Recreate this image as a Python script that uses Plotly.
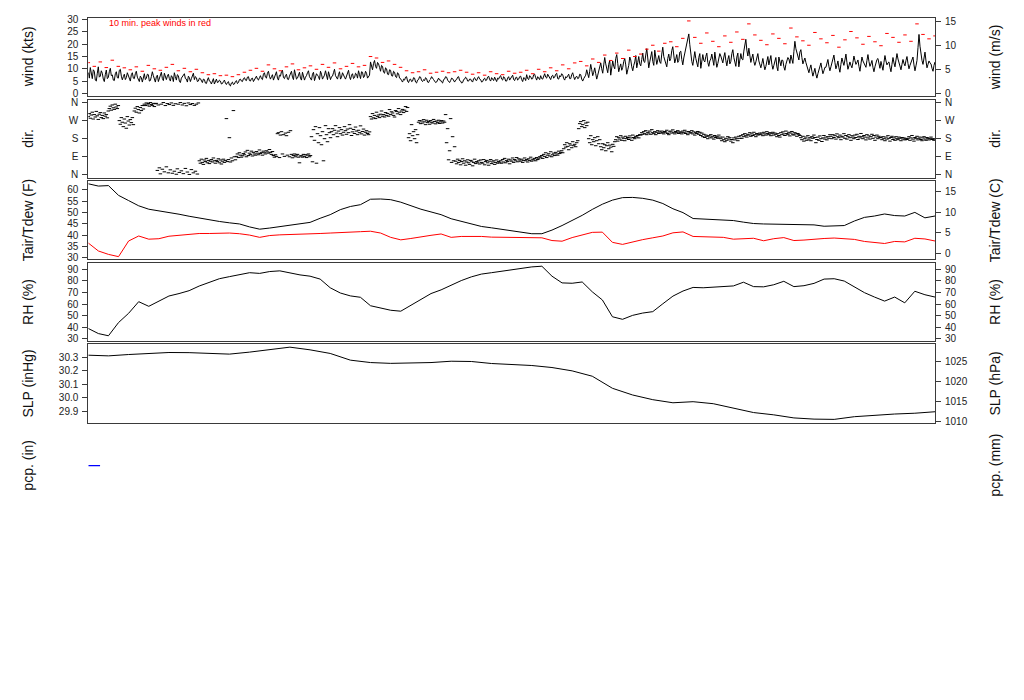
import numpy as np
import plotly.graph_objects as go

# ---------------- data ----------------
span_hours = 72.0

wind_kts = [
    # x 88-128
    8.5, 6.2, 10.5, 7.4, 6.0, 9.6, 9.0, 5.4, 5.0, 8.2, 10.8, 6.6, 7.0, 9.2, 8.2, 5.8, 4.8, 7.6, 9.5, 6.0,
    6.5, 8.8, 10.2, 7.2, 7.5, 5.4, 5.2, 8.0, 8.8, 6.4, 6.2, 9.4, 9.8, 7.0, 5.5, 6.8, 7.8, 5.6, 6.4, 8.4,
    # x 128-168
    7.2, 5.8, 5.0, 7.6, 8.4, 6.2, 6.0, 8.0, 9.0, 6.6, 5.4, 4.8, 7.0, 6.4, 4.6, 7.2, 8.0, 5.6, 6.2, 7.8,
    7.6, 5.0, 5.2, 6.8, 8.8, 7.2, 5.8, 4.6, 6.8, 7.4, 4.8, 6.0, 7.4, 8.6, 6.0, 5.2, 8.2, 6.6, 5.6, 7.0,
    # x 168-200
    7.8, 6.0, 5.0, 7.2, 6.6, 4.8, 8.4, 6.8, 5.4, 7.6, 7.2, 5.0, 4.4, 6.2, 6.8, 7.8, 8.0, 6.0, 5.8, 4.6,
    7.0, 6.4, 4.8, 6.0, 7.6, 8.2, 5.6, 6.8, 6.4, 4.8, 5.0, 6.2,
    # x 200-240
    6.0, 5.2, 4.4, 5.8, 5.6, 4.2, 4.0, 5.4, 6.4, 5.0, 4.8, 3.8, 5.2, 6.0, 3.8, 4.6, 5.8, 4.4, 4.6, 5.4,
    5.0, 3.8, 4.0, 4.8, 5.4, 4.2, 3.6, 4.4, 4.8, 3.4, 3.0, 4.2, 4.6, 3.6, 3.8, 4.8, 5.2, 4.0, 4.4, 5.6,
    # x 240-260
    5.8, 5.0, 4.8, 6.0, 6.4, 5.4, 5.2, 6.6, 6.8, 5.2, 5.0, 6.0, 6.2, 4.8, 5.6, 6.6, 7.0, 5.8, 5.4, 6.4,
    # x 260-370
    7.2, 6.0, 5.6, 7.8, 8.4, 6.6, 6.2, 8.2, 9.0, 7.0, 5.8, 6.8, 7.6, 5.4, 6.4, 8.0, 8.8, 6.2, 5.4, 7.4,
    7.0, 8.8, 9.4, 6.4, 6.0, 7.2, 7.8, 5.8, 5.6, 7.0, 8.2, 9.0, 6.6, 5.6, 9.6, 7.8, 5.8, 6.2, 7.4, 8.6,
    6.2, 5.4, 8.6, 7.0, 5.4, 6.6, 7.2, 8.4, 9.2, 6.8, 6.0, 5.4, 7.8, 8.6, 5.2, 6.4, 8.0, 7.4, 6.8, 5.6,
    9.0, 7.8, 5.8, 6.6, 7.4, 9.2, 6.4, 5.6, 8.8, 7.0, 5.6, 6.8, 7.0, 8.4, 9.8, 7.2, 6.2, 5.8, 7.6, 8.8,
    5.8, 6.6, 8.4, 7.0, 6.6, 5.8, 7.2, 8.8, 9.4, 6.8, 5.6, 7.4, 8.0, 6.0, 6.4, 8.2, 7.8, 6.2, 9.2, 7.6,
    6.0, 8.8, 8.6, 6.4, 7.0, 9.0, 8.2, 6.2, 6.8, 7.4,
    # x 370-380
    12.8, 10.4, 9.6, 12.2, 13.4, 11.0, 10.2, 12.6, 12.0, 10.6,
    # x 380-400
    9.0, 11.4, 11.0, 8.6, 8.2, 10.4, 10.0, 7.8, 7.6, 9.6, 9.4, 7.2, 7.0, 9.0, 8.6, 6.8, 6.4, 8.4, 8.0, 6.2,
    # x 400-470
    6.0, 5.2, 4.6, 5.8, 5.4, 6.6, 6.8, 5.0, 4.4, 5.6, 5.8, 4.8, 5.0, 6.4, 6.2, 4.6, 4.2, 5.4, 5.6, 6.8,
    6.6, 5.2, 4.8, 5.6, 5.2, 6.4, 6.0, 4.6, 4.4, 5.4, 5.8, 6.8, 6.4, 5.6, 5.0, 4.4, 4.6, 5.8, 6.2, 5.4,
    5.4, 4.6, 4.2, 5.6, 5.8, 6.8, 6.6, 5.4, 4.8, 4.4, 5.2, 6.2, 6.0, 5.0, 4.6, 5.4, 5.6, 6.6, 6.8, 5.2,
    5.0, 4.2, 4.4, 5.6, 5.8, 6.6, 6.2, 5.0, 5.0, 5.8,
    # x 470-586
    5.8, 5.0, 4.6, 6.0, 6.4, 5.4, 5.2, 6.2, 6.8, 5.8, 5.6, 4.6, 4.8, 5.8, 6.2, 5.2, 5.4, 6.6, 7.0, 5.6,
    5.0, 6.4, 6.0, 5.2, 6.6, 5.6, 4.8, 6.2, 5.8, 6.8, 7.2, 5.8, 5.4, 6.8, 6.4, 5.0, 5.0, 6.2, 6.8, 5.4,
    6.0, 6.8, 7.4, 5.6, 5.2, 6.4, 6.6, 5.4, 5.8, 6.8, 7.0, 5.6, 4.8, 6.4, 6.2, 5.2, 7.6, 6.0, 5.6, 7.2,
    6.8, 5.8, 6.0, 7.6, 7.8, 6.4, 5.4, 6.8, 6.4, 5.6, 7.2, 6.0, 5.8, 7.4, 8.0, 6.6, 6.2, 7.8, 7.0, 5.8,
    5.6, 7.0, 7.4, 6.2, 6.6, 7.8, 8.2, 6.0, 5.8, 7.2, 6.8, 8.0, 7.6, 6.0, 5.4, 6.8, 6.4, 7.2, 7.8, 6.0,
    6.0, 7.6, 8.4, 6.8, 5.6, 6.6, 7.0, 6.0, 6.2, 7.8, 7.6, 5.8, 5.0, 6.0, 6.8, 7.4,
    # x 586-600
    9.6, 7.8, 6.4, 9.0, 11.8, 9.6, 7.2, 8.6, 10.4, 8.0, 5.8, 7.4, 9.0, 10.6,
    # x 600-640
    12.4, 10.0, 8.2, 11.6, 14.6, 12.0, 9.6, 8.4, 11.8, 13.4, 7.4, 9.8, 13.2, 11.0, 10.0, 14.2, 15.8, 12.2, 8.8, 10.6,
    12.0, 9.4, 10.6, 13.0, 14.2, 11.6, 7.8, 9.6, 11.4, 14.8, 13.6, 10.8, 9.2, 11.4, 12.8, 15.4, 10.4, 12.6, 15.0, 12.0,
    # x 640-688
    11.2, 13.8, 16.4, 13.0, 12.6, 15.6, 18.2, 14.4, 10.4, 12.8, 14.8, 17.0, 13.0, 11.4, 17.6, 15.2, 11.8, 13.6, 15.4, 12.8,
    12.2, 16.0, 18.8, 15.0, 13.6, 11.6, 10.8, 14.2, 16.0, 13.2, 14.2, 17.4, 19.0, 15.6, 12.4, 14.0, 15.8, 12.6, 13.4, 16.8,
    17.2, 13.8, 11.6, 14.4, 16.6, 18.0, 19.4, 21.6,
    24.2, 19.8,
    # x 690-722
    15.6, 13.0, 11.4, 14.8, 17.0, 14.2, 12.0, 10.8, 14.6, 16.2, 10.2, 12.8, 15.8, 13.4, 12.8, 15.0, 16.4, 12.6, 11.0, 13.2,
    14.0, 16.0, 12.6, 11.4, 16.8, 14.4, 10.6, 12.2, 13.8, 16.2, 15.2, 13.6,
    # x 722-760
    12.4, 14.8, 16.6, 13.4, 11.2, 13.8, 15.4, 12.0, 13.0, 16.2, 17.8, 14.6, 12.2, 11.0, 14.8, 16.4, 10.8, 13.2, 16.2, 14.0,
    13.6, 17.2, 20.4, 22.0, 17.6, 15.2, 18.4, 15.0, 12.6, 14.4, 16.0, 13.0, 11.4, 12.8, 14.6, 16.2, 13.2, 11.8,
    # x 760-790
    10.4, 12.2, 14.2, 11.6, 9.6, 11.0, 13.0, 15.0, 11.6, 13.8, 15.4, 11.8, 9.8, 11.4, 12.6, 14.6, 10.8, 9.2, 14.8, 12.4,
    11.2, 13.6, 13.4, 10.8, 9.4, 11.8, 12.8, 14.6, 14.0, 12.2,
    # x 790-808
    15.6, 13.4, 12.2, 17.0, 21.2, 18.2, 16.4, 14.2, 13.6, 16.8, 17.8, 14.6, 12.0, 13.2, 14.4, 12.6, 11.2, 10.0,
    # x 808-825
    8.4, 10.2, 11.6, 9.0, 7.0, 8.6, 10.2, 7.8, 6.2, 8.0, 9.6, 11.8, 12.4, 10.0, 8.0, 9.2, 10.6,
    # x 825-880
    10.6, 12.6, 13.8, 11.0, 9.2, 10.8, 12.4, 14.2, 15.6, 12.6, 10.0, 11.4, 13.2, 10.4, 8.6, 11.8, 14.4, 12.8, 11.4, 13.6,
    16.0, 12.6, 9.8, 11.2, 12.8, 11.4, 10.4, 12.6, 15.2, 13.4, 11.8, 12.6, 13.6, 11.0, 9.0, 12.0, 14.8, 13.2, 12.2, 11.0,
    10.6, 13.4, 15.8, 13.0, 11.0, 12.0, 13.4, 10.6, 8.8, 10.8, 12.6, 13.8, 14.2, 11.6, 10.2,
    # x 880-934
    13.0, 11.0, 9.4, 12.6, 15.4, 13.2, 11.6, 12.4, 12.8, 10.6, 8.8, 11.8, 14.6, 12.4, 10.8, 13.6, 16.2, 14.0, 12.4, 10.6,
    9.6, 11.8, 13.8, 12.2, 11.2, 13.4, 15.0, 12.2, 10.0, 11.4, 12.6, 14.0, 14.8, 11.6, 9.2, 11.2, 13.4, 18.6, 24.0, 19.2,
    15.6, 13.4, 11.8, 14.6, 16.8, 13.2, 10.4, 11.8, 13.2, 12.4, 12.0, 10.2, 9.0, 11.4, 12.8,
]

peak_kts = [
    12.5, 11.0, 12.8, 10.5, 13.5, 11.0, 10.4,
    9.6, 10.8, 9.0, 11.4, 10.0, 9.4, 10.6, 11.8, 9.2, 10.2, 8.8, 9.8,
    8.4, 7.6, 8.0, 7.2, 7.4, 6.8, 7.6,
    8.6, 9.4, 10.2, 9.0, 11.6, 10.0, 9.2, 10.8, 12.0, 9.6,
    10.4, 11.2, 9.8, 11.8, 10.6, 12.4, 10.0, 11.0, 12.2, 10.8, 11.4,
    15.0, 14.4,
    12.6, 13.2, 11.8, 10.6,
    9.2, 8.4, 8.8, 9.6, 8.2, 8.6, 9.0, 8.4, 8.8, 9.4, 8.6,
    7.8, 8.4, 7.4, 8.8, 8.0, 7.6, 9.0, 8.2, 8.6, 9.4, 8.0, 9.8, 8.8, 10.4, 9.2, 11.6, 10.0, 12.4, 13.0, 11.2,
    14.0, 12.6, 15.6, 13.4, 16.4, 14.2, 17.6, 15.0, 16.0,
    18.0, 19.6, 17.2, 20.4, 21.0, 19.0, 22.4, 29.5,
    22.8, 20.4, 24.6, 21.2, 19.0, 23.4, 20.8, 25.0, 22.0, 28.3, 23.8, 21.6, 19.8, 24.2, 22.4, 20.2, 26.6,
    23.0, 21.4, 19.6, 24.8, 22.2, 20.6, 23.6, 18.8, 21.8, 25.2, 22.6, 20.0, 23.2, 21.0, 19.4, 24.4, 22.8,
    20.8, 23.8, 21.2, 28.3, 24.0, 22.2, 23.4,
]

dir_deg = [
    # x 88-109
    290, 305, 282, 298, 312, 278, 300, 288, 316, 294, 276, 302, 310, 285, 296, 280, 308, 292, 300, 284, 318,
    # x 109-119
    330, 342, 322, 348, 334, 326, 352, 338, 330, 345,
    # x 119-134
    270, 252, 285, 262, 240, 278, 258, 232, 290, 268, 248, 275, 260, 285, 250,
    # x 134-144
    318, 332, 312, 340, 325, 308, 335, 320, 345, 328,
    # x 144-156
    352, 345, 358, 348, 355, 342, 360, 350, 346, 356, 340, 354,
    # x 156-199
    356, 22, 348, 35, 5, 352, 28, 360, 15, 345, 40, 355, 10, 350, 25, 358, 8, 346, 18, 354, 3, 30,
    352, 12, 360, 20, 348, 6, 356, 32, 344, 14, 358, 2, 350, 26, 355, 10, 346, 18, 352, 4, 358,
    # x 199-236
    70, 58, 78, 62, 52, 74, 66, 82, 60, 72, 56, 68, 76, 64, 84, 70, 58, 72, 66, 80,
    60, 74, 54, 68, 78, 62, 72, 280, 66, 76, 185, 64, 84, 70, 320, 90, 75,
    # x 236-273
    92, 104, 86, 110, 98, 88, 95, 106, 100, 114, 90, 122, 96, 108, 102, 118, 94, 112, 104, 98,
    116, 108, 100, 124, 106, 112, 98, 118, 110, 104, 120, 114, 108, 126, 112, 102, 116,
    # x 273-301
    96, 88, 100, 92, 205, 210, 86, 198, 215, 104, 200, 92, 208, 195, 98, 212, 90, 220, 102, 85,
    96, 104, 90, 98, 102, 88, 60, 94,
    # x 301-311
    95, 88, 102, 92, 100, 86, 98, 104, 90, 96,
    # x 311-331
    190, 65, 225, 172, 240, 58, 205, 160, 235, 195, 150, 215, 70, 180, 245, 200, 165, 230, 210, 185,
    # x 331-370
    215, 230, 200, 222, 245, 208, 190, 218, 235, 205, 225, 198, 212, 240, 220, 202, 228, 210, 250, 232,
    196, 214, 226, 206, 238, 218, 200, 222, 210, 244, 204, 216, 228, 198, 212, 220, 206, 200, 214,
    # x 370-408
    290, 278, 305, 284, 296, 280, 312, 290, 298, 285, 302, 318, 292, 300, 288, 310, 296, 306, 292, 325,
    300, 314, 308, 296, 288, 320, 315, 304, 330, 312, 300, 318, 326, 310, 322, 340, 316, 335,
    # x 408-418
    185, 205, 170, 250, 195, 215, 180, 225, 160, 200,
    # x 418-445
    262, 270, 255, 268, 258, 275, 264, 250, 272, 260, 266, 252, 270, 262, 258, 276, 266, 254, 268, 260,
    272, 256, 264, 270, 258, 268, 262,
    # x 445-455
    300, 160, 230, 75, 120, 280, 62, 190, 70, 140,
    # x 455-500
    68, 55, 78, 62, 72, 50, 66, 80, 58, 70, 48, 64, 75, 60, 52, 72, 68, 45, 62, 78,
    56, 66, 60, 70, 54, 74, 62, 58, 76, 50, 66, 72, 60, 48, 68, 76, 56, 64, 70, 52,
    62, 74, 58, 66, 60,
    # x 500-540
    70, 58, 76, 64, 82, 60, 72, 66, 78, 55, 74, 68, 84, 62, 76, 70, 86, 65, 80, 74,
    68, 78, 62, 72, 84, 70, 76, 64, 80, 72, 88, 68, 78, 74, 82, 70, 86, 76, 80, 90,
    # x 540-563
    88, 96, 82, 102, 92, 110, 86, 98, 105, 94, 115, 90, 100, 108, 96, 112, 104, 98, 118, 106,
    112, 120, 110,
    # x 563-578
    130, 150, 138, 160, 142, 125, 155, 148, 135, 165, 145, 152, 140, 160, 170,
    # x 578-588
    230, 255, 265, 240, 250, 270, 235, 258, 245, 262,
    # x 588-600
    180, 160, 195, 150, 175, 165, 185, 145, 170, 190, 155, 175,
    # x 600-615
    140, 125, 155, 135, 150, 120, 145, 160, 130, 148, 138, 115, 152, 142, 165,
    # x 615-640
    175, 190, 168, 185, 178, 195, 172, 188, 182, 170, 192, 180, 186, 176, 194, 184, 172, 198, 186, 180,
    192, 188, 196, 184, 200,
    # x 640-720
    198, 210, 202, 215, 205, 220, 200, 212, 208, 218, 202, 225, 210, 205, 215, 200, 212, 220, 206, 214,
    208, 218, 210, 204, 216, 212, 222, 206, 200, 214, 218, 208, 224, 212, 204, 216, 210, 220, 206, 214,
    212, 204, 218, 210, 222, 206, 214, 200, 216, 208, 210, 220, 204, 214, 198, 210, 206, 216, 202, 212,
    196, 208, 190, 202, 186, 198, 192, 180, 195, 188, 200, 184, 192, 178, 196, 186, 190, 182, 198, 188,
    # x 720-760
    180, 170, 188, 175, 165, 182, 172, 190, 178, 185, 168, 176, 160, 184, 174, 188, 180, 170, 192, 182,
    195, 182, 200, 190, 205, 195, 188, 202, 198, 210, 192, 204, 196, 212, 200, 190, 206, 198, 202, 208,
    # x 760-800
    200, 208, 195, 212, 204, 198, 215, 206, 200, 210, 195, 205, 212, 198, 208, 202, 190, 205, 196, 188,
    210, 200, 214, 204, 196, 218, 206, 200, 212, 194, 208, 216, 202, 198, 210, 204, 192, 206, 200, 196,
    # x 800-830
    185, 175, 192, 168, 180, 188, 172, 195, 178, 185, 170, 190, 182, 198, 186, 160, 176, 188, 172, 194,
    180, 166, 184, 196, 178, 188, 174, 190, 182, 200,
    # x 830-880
    192, 180, 200, 186, 195, 178, 204, 190, 185, 198, 175, 192, 188, 205, 182, 196, 178, 190, 200, 185,
    172, 195, 188, 180, 198, 186, 202, 176, 192, 184, 206, 190, 180, 196, 188, 174, 200, 184, 194, 178,
    190, 202, 182, 196, 172, 188, 198, 180, 192, 186,
    # x 880-935
    185, 175, 190, 180, 170, 188, 178, 195, 182, 168, 186, 192, 176, 184, 172, 190, 180, 175, 188, 182,
    170, 186, 178, 184, 174, 180, 176, 182, 190, 172, 184, 196, 178, 168, 186, 180, 192, 174, 182, 188,
    176, 170, 184, 190, 178, 172, 186, 180, 174, 182, 188, 176, 180, 172, 178,
]

tair_f = [
    62.6, 61.6, 61.8, 57.5, 55.2, 52.9, 51.4, 50.7, 50.2, 49.2, 48.3, 47.5, 46.6, 46.0, 45.4, 44.9, 43.6,
    42.6, 43.1, 43.8, 44.3, 44.9, 45.6, 47.4, 49.0, 51.2, 52.6, 53.4, 55.8, 55.9, 55.6, 54.5, 52.9, 51.4,
    50.2, 49.0, 47.2, 46.0, 45.0, 43.8, 43.2, 42.6, 42.0, 41.3, 40.6, 40.6, 42.2, 44.2, 46.4, 48.7, 51.3,
    53.6, 55.4, 56.5, 56.6, 56.2, 55.4, 53.9, 51.6, 49.9, 47.3, 47.0, 46.8, 46.6, 46.4, 45.7, 45.1, 44.9,
    44.8, 44.8, 44.7, 44.8, 44.5, 43.9, 44.0, 44.2, 46.2, 47.8, 48.4, 49.3, 48.6, 48.4, 50.0, 47.6, 48.4,
]

tdew_f = [
    36.5, 33.0, 31.5, 30.5, 37.4, 39.6, 38.2, 38.4, 39.5, 40.0, 40.4, 40.7, 40.7, 40.8, 40.9, 40.6, 40.0,
    39.0, 39.8, 40.1, 40.2, 40.2, 40.5, 40.7, 40.9, 41.2, 41.4, 41.5, 41.7, 40.9, 39.0, 37.9, 38.5, 39.3,
    39.9, 40.5, 39.0, 39.4, 39.5, 39.4, 39.1, 39.0, 39.0, 38.8, 38.7, 38.8, 37.6, 37.3, 38.9, 40.2, 41.2,
    41.3, 36.8, 35.9, 37.0, 38.0, 38.8, 39.6, 41.0, 41.4, 39.4, 39.2, 39.0, 39.0, 38.2, 38.5, 38.6, 37.5,
    38.4, 38.9, 37.6, 37.8, 38.3, 38.5, 38.7, 38.4, 38.1, 37.2, 36.6, 36.3, 37.2, 37.0, 38.6, 38.3, 37.4,
]

rh_pct = [
    38.9, 34.5, 32.6, 44.0, 52.0, 62.0, 58.0, 62.5, 66.9, 69.0, 71.5, 75.5, 78.5, 81.8, 83.6, 85.0, 87.0,
    86.4, 88.0, 88.6, 86.6, 85.1, 84.0, 81.5, 74.0, 69.5, 67.0, 65.8, 58.5, 56.8, 54.6, 53.8, 58.8, 63.5,
    69.0, 72.2, 76.5, 80.2, 83.4, 85.8, 87.0, 88.4, 89.8, 91.0, 92.0, 92.6, 84.0, 78.2, 77.9, 79.0, 70.5,
    63.5, 49.0, 46.8, 50.2, 52.2, 53.4, 60.2, 66.8, 71.2, 74.3, 74.0, 74.4, 74.6, 75.6, 78.8, 75.0, 74.8,
    76.6, 79.6, 75.0, 75.8, 77.8, 81.5, 81.8, 79.8, 75.0, 69.8, 66.0, 62.5, 66.0, 61.0, 71.0, 68.0, 66.0,
]

slp_inhg = [
    30.317, 30.312, 30.322, 30.330, 30.337, 30.336, 30.331, 30.325, 30.340, 30.358, 30.377, 30.357,
    30.330, 30.280, 30.262, 30.256, 30.258, 30.262, 30.272, 30.270, 30.255, 30.248, 30.240, 30.225,
    30.200, 30.160, 30.070, 30.020, 29.985, 29.962, 29.970, 29.955, 29.922, 29.889, 29.872, 29.849,
    29.840, 29.838, 29.858, 29.869, 29.878, 29.884, 29.895,
]

pcp_hours = [0.0, 1.0]
pcp_in = [0.0, 0.0]

# axis scales / ticks
wind_range = [-1.2, 30.6]
wind_ticks = [0, 5, 10, 15, 20, 25, 30]
ms_ticks = [0, 5, 10, 15]
dir_range = [-14.4, 374.4]
dir_ticks = [0, 90, 180, 270, 360]
dir_labels = ["N", "E", "S", "W", "N"]
temp_range = [29.3, 63.7]
temp_ticks = [30, 35, 40, 45, 50, 55, 60]
c_ticks = [0, 5, 10, 15]
rh_range = [28.0, 95.6]
rh_ticks = [30, 40, 50, 60, 70, 80, 90]
slp_range = [29.81, 30.40]
slp_ticks = [29.9, 30.0, 30.1, 30.2, 30.3]
hpa_ticks = [1010, 1015, 1020, 1025]
pcp_range = [-1.0, 1.0]

KTS_TO_MS = 0.514444
INHG_TO_HPA = 33.8639

def f_to_c(f):
    return (f - 32.0) * 5.0 / 9.0

def tgrid(vals):
    return np.linspace(0, span_hours, len(vals))

# ---------------- geometry ----------------
# the page body has an 8 px margin, so the figure is placed at (8, 8) on screen
OFF = 8
W, H = 1008, 684

def px(x):
    return (x - OFF) / W

def py(y):
    return 1 - (y - OFF) / H

X0, X1 = 88.3, 935.0
panels = [(14.3, 93.3), (96.7, 175.7), (179.3, 258.3), (261.7, 341.0), (344.0, 424.0), (427.0, 507.0)]

FONT = "Arial, Liberation Sans, sans-serif"
TICKFONT = dict(family=FONT, size=10, color="#222")
FRAME = "#3a3a3a"

fig = go.Figure()

# wind
fig.add_trace(go.Scatter(x=tgrid(wind_kts), y=wind_kts, mode="lines",
                         line=dict(color="black", width=1), xaxis="x", yaxis="y"))
fig.add_trace(go.Scatter(x=tgrid(peak_kts), y=peak_kts, mode="markers",
                         marker=dict(symbol="line-ew", size=2.5, line=dict(color="red", width=1)),
                         xaxis="x", yaxis="y"))
# direction
fig.add_trace(go.Scatter(x=tgrid(dir_deg), y=dir_deg, mode="markers",
                         marker=dict(symbol="line-ew", size=2.5, line=dict(color="black", width=1)),
                         xaxis="x2", yaxis="y2"))
# temperature / dew point
fig.add_trace(go.Scatter(x=tgrid(tair_f), y=tair_f, mode="lines",
                         line=dict(color="black", width=1), xaxis="x3", yaxis="y3"))
fig.add_trace(go.Scatter(x=tgrid(tdew_f), y=tdew_f, mode="lines",
                         line=dict(color="red", width=1), xaxis="x3", yaxis="y3"))
# RH
fig.add_trace(go.Scatter(x=tgrid(rh_pct), y=rh_pct, mode="lines",
                         line=dict(color="black", width=1), xaxis="x4", yaxis="y4"))
# SLP
fig.add_trace(go.Scatter(x=tgrid(slp_inhg), y=slp_inhg, mode="lines",
                         line=dict(color="black", width=1), xaxis="x5", yaxis="y5"))
# precipitation
fig.add_trace(go.Scatter(x=pcp_hours, y=pcp_in, mode="lines",
                         line=dict(color="blue", width=1.2), xaxis="x6", yaxis="y6"))
# empty traces to register the right-hand axes
for k in range(7, 12):
    fig.add_trace(go.Scatter(x=[], y=[], xaxis="x%d" % (k - 6), yaxis="y%d" % k))

layout = dict(width=W, height=H, margin=dict(l=0, r=0, t=0, b=0),
              paper_bgcolor="white", plot_bgcolor="white", showlegend=False,
              hovermode=False)

left_specs = [
    (wind_range, wind_ticks, [str(v) for v in wind_ticks]),
    (dir_range, dir_ticks, dir_labels),
    (temp_range, temp_ticks, [str(v) for v in temp_ticks]),
    (rh_range, rh_ticks, [str(v) for v in rh_ticks]),
    (slp_range, slp_ticks, ["%.1f" % v for v in slp_ticks]),
]
right_specs = [
    ([v * KTS_TO_MS for v in wind_range], ms_ticks, [str(v) for v in ms_ticks]),
    (dir_range, dir_ticks, dir_labels),
    ([f_to_c(v) for v in temp_range], c_ticks, [str(v) for v in c_ticks]),
    (rh_range, rh_ticks, [str(v) for v in rh_ticks]),
    ([v * INHG_TO_HPA for v in slp_range], hpa_ticks, [str(v) for v in hpa_ticks]),
]

for i, (top, bot) in enumerate(panels, start=1):
    framed = i <= 5
    ydom = [py(bot), py(top)]
    layout["xaxis%d" % i] = dict(domain=[px(X0), px(X1)], range=[0, span_hours], anchor="y%d" % i,
                                 showline=framed, mirror=framed, linecolor=FRAME, linewidth=1,
                                 ticks="", showticklabels=False, showgrid=False, zeroline=False)
    if framed:
        rng, tv, tt = left_specs[i - 1]
        layout["yaxis%d" % i] = dict(domain=ydom, range=rng, anchor="x%d" % i,
                                     tickvals=tv, ticktext=tt, ticks="outside", ticklen=5,
                                     tickcolor=FRAME, tickfont=TICKFONT, ticklabelstandoff=2,
                                     showline=True, linecolor=FRAME, linewidth=1,
                                     showgrid=False, zeroline=False)
        rng2, tv2, tt2 = right_specs[i - 1]
        layout["yaxis%d" % (i + 6)] = dict(range=rng2, overlaying="y%d" % i, anchor="x%d" % i,
                                           side="right", tickvals=tv2, ticktext=tt2,
                                           ticks="outside", ticklen=5, tickcolor=FRAME,
                                           tickfont=TICKFONT, ticklabelstandoff=2,
                                           showline=True, linecolor=FRAME,
                                           linewidth=1, showgrid=False, zeroline=False)
    else:
        layout["yaxis%d" % i] = dict(domain=ydom, range=pcp_range, anchor="x%d" % i,
                                     visible=False, showgrid=False, zeroline=False)

fig.update_layout(**layout)

left_titles = ["wind (kts)", "dir.", "Tair/Tdew (F)", "RH (%)", "SLP (inHg)", "pcp. (in)"]
right_titles = ["wind (m/s)", "dir.", "Tair/Tdew (C)", "RH (%)", "SLP (hPa)", "pcp. (mm)"]
for (top, bot), lt, rt in zip(panels, left_titles, right_titles):
    yc = py((top + bot) / 2)
    for xpx, txt in ((28, lt), (995, rt)):
        fig.add_annotation(x=px(xpx), y=yc, xref="paper", yref="paper", text=txt,
                           textangle=-90, showarrow=False, xanchor="center", yanchor="middle",
                           font=dict(family=FONT, size=14, color="#111"))

fig.add_annotation(x=px(107), y=py(19.5), xref="paper", yref="paper",
                   text="10 min. peak winds in red", showarrow=False,
                   xanchor="left", yanchor="middle", font=dict(family=FONT, size=9, color="red"))

fig.write_html("out.html", config={"displayModeBar": False})
